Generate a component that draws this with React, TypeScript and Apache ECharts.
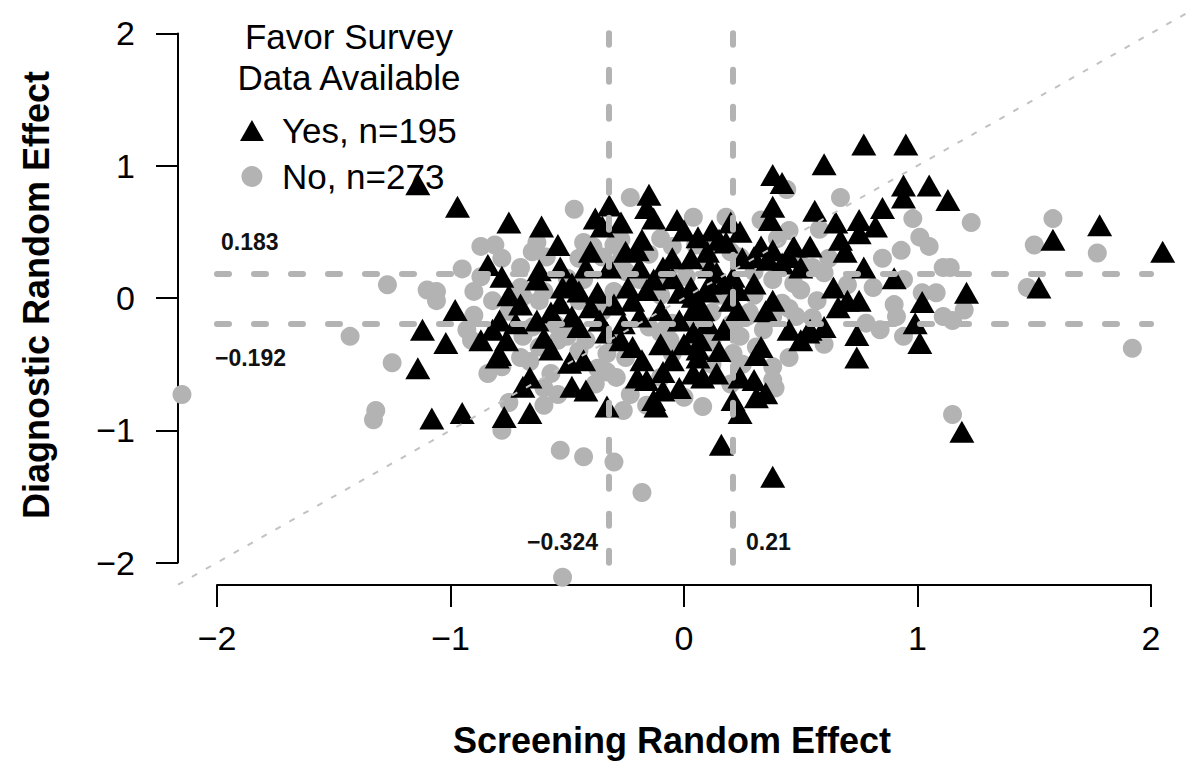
import React, { useEffect, useRef } from "react";
import * as echarts from "echarts";

const FONT = '"Liberation Sans", Arial, Helvetica, sans-serif';

// Tick positions
const xTickMin = -2;
const xTickMax = 2;
const yTickMin = -2;
const yTickMax = 2;

// Reference cut-offs
const vLines = [-0.324, 0.21];
const hLines = [0.183, -0.192];

// Favor survey data available: Yes (triangles)
const yesPoints: [number, number][] = [
  [-1.14, 0.86], [-0.97, 0.69], [-0.75, 0.57], [-0.61, 0.54], [-0.54, 0.4], [-0.38, 0.6], [-0.32, 0.7],
  [-0.27, 0.57], [-0.35, 0.54], [-0.15, 0.78], [-0.16, 0.68], [-0.13, 0.6], [-0.03, 0.59], [0.0, 0.51],
  [0.38, 0.69], [0.37, 0.59], [0.42, 0.87], [0.38, 0.93], [0.56, 0.66], [0.12, 0.51], [0.2, 0.57],
  [0.24, 0.5], [0.15, 0.44], [0.18, 0.42], [0.03, 0.3], [-0.18, 0.44], [-0.2, 0.36], [-0.09, 0.23],
  [-0.19, 0.23], [-0.32, 0.23], [-0.42, 0.23], [-0.53, 0.23], [-0.62, 0.21], [-0.84, 0.25], [-0.78, 0.16],
  [-0.75, 0.02], [-0.98, -0.09], [-0.63, 0.14], [-0.52, 0.08], [-0.48, 0.11], [-0.37, 0.04], [-0.4, -0.07],
  [-0.53, -0.04], [-0.57, -0.11], [-0.48, -0.14], [-0.36, -0.17], [-0.45, -0.22], [-0.63, -0.17],
  [-0.72, -0.19], [-0.79, -0.17], [-0.82, -0.24], [-0.87, -0.32], [-0.76, -0.32], [-1.02, -0.34],
  [-0.79, -0.43], [-0.57, -0.39], [-0.49, -0.49], [-0.43, -0.47], [-0.24, 0.08], [-0.22, -0.02],
  [-0.16, 0.06], [-0.13, 0.14], [-0.1, -0.09], [-0.19, -0.14], [-0.26, -0.19], [-0.27, -0.32],
  [-0.33, -0.26], [-0.22, -0.37], [-0.18, -0.47], [-0.2, -0.6], [-0.16, -0.62], [-0.05, -0.47],
  [-0.02, 0.04], [0.03, 0.08], [0.04, 0.01], [0.08, -0.09], [-0.02, -0.17], [0.04, -0.26], [0.1, -0.19],
  [0.14, 0.19], [0.11, 0.23], [0.17, 0.11], [0.23, 0.06], [0.2, -0.02], [0.23, -0.09], [0.17, -0.24],
  [0.06, -0.39], [0.04, -0.57], [0.08, -0.6], [0.14, -0.57], [0.24, -0.6], [0.3, -0.62], [0.3, 0.31],
  [0.33, 0.39], [0.38, 0.36], [0.47, 0.39], [0.54, 0.39], [0.42, 0.26], [0.5, 0.23], [0.3, 0.11],
  [0.38, -0.02], [0.45, -0.24], [0.54, -0.24], [0.33, -0.37], [0.5, -0.32], [0.21, -0.77], [0.24, -0.87],
  [0.31, -0.75], [0.35, -0.72], [-0.13, -0.77], [-0.09, -0.7], [-0.33, -0.82], [-0.42, -0.7], [-0.48, -0.67],
  [-0.66, -0.6], [-0.69, -0.67], [-0.66, -0.87], [-0.77, -0.9], [-0.95, -0.87], [-1.12, -0.24],
  [-1.14, -0.53], [-1.08, -0.91], [-0.8, -0.45], [-0.09, -0.56], [-0.12, -0.82], [-0.02, -0.68],
  [0.06, -0.45], [0.31, -0.43], [0.74, -0.45], [0.16, -1.11], [0.38, -1.35], [0.77, 1.16], [0.95, 1.16],
  [0.6, 1.01], [0.94, 0.85], [1.05, 0.85], [0.94, 0.76], [1.13, 0.74], [0.65, 0.57], [0.75, 0.59],
  [0.85, 0.68], [0.82, 0.54], [0.75, 0.49], [0.67, 0.44], [0.69, 0.35], [0.77, 0.23], [0.9, 0.15],
  [1.02, -0.03], [0.99, -0.19], [1.01, -0.34], [0.74, -0.28], [0.64, 0.08], [0.7, -0.02], [0.75, -0.02],
  [0.66, -0.07], [0.6, -0.22], [0.53, -0.26], [0.36, 0.29], [0.45, 0.31], [0.21, 0.16], [0.11, 0.11],
  [0.04, -0.09], [0.07, -0.32], [0.06, 0.46], [1.78, 0.55], [1.58, 0.44], [2.05, 0.35], [1.21, 0.04],
  [1.52, 0.08], [1.19, -1.01],
  [-0.45, 0.05], [-0.3, -0.05], [-0.05, 0.3], [0.1, 0.35], [-0.25, 0.35], [0.25, 0.3], [-0.7, -0.05],
  [-0.4, 0.35], [0.0, -0.35], [0.15, -0.4], [-0.1, -0.35], [0.35, -0.1], [-0.6, -0.3], [0.1, 0.05],
  [-0.05, 0.15],
];

// Favor survey data available: No (circles)
const noPoints: [number, number][] = [
  [-2.15, -0.73], [-1.43, -0.29], [-1.27, 0.1], [-1.25, -0.49], [-1.32, -0.85], [-1.33, -0.92],
  [-1.1, 0.06], [-1.06, 0.05], [-1.06, -0.02], [-0.9, -0.13], [-0.93, -0.24], [-0.82, -0.02],
  [-0.87, 0.16], [-0.87, 0.39], [-0.81, 0.4], [-0.78, 0.3], [-0.7, 0.23], [-0.47, 0.67], [-0.23, 0.76],
  [-0.43, 0.42], [-0.63, 0.42], [-0.53, -1.15], [-0.43, -1.2], [-0.3, -1.24], [-0.18, -1.47],
  [-0.52, -2.11], [-0.78, -1.0], [-0.75, -0.79], [-0.6, -0.81], [-0.54, -0.73], [-0.57, -0.57],
  [-0.66, -0.48], [-0.26, -0.85], [-0.29, -0.6], [-0.23, -0.73], [-0.16, -0.81], [-0.37, -0.53],
  [-0.33, -0.56], [0.08, -0.82], [0.38, -0.52], [0.39, -0.68], [1.15, -0.88], [1.92, -0.38],
  [1.23, 0.57], [1.58, 0.6], [1.5, 0.4], [1.77, 0.34], [1.47, 0.08], [1.2, -0.09], [1.14, 0.23],
  [1.15, -0.17], [0.67, 0.76], [0.98, 0.6], [1.01, 0.46], [1.05, 0.39], [0.93, 0.36], [1.11, 0.23],
  [0.94, 0.14], [0.81, 0.08], [1.02, 0.04], [1.08, 0.04], [0.91, -0.14], [1.11, -0.14], [0.84, -0.24],
  [0.78, -0.19], [0.94, -0.29], [0.45, 0.51], [0.33, 0.59], [0.18, 0.61], [0.04, 0.61], [0.44, 0.82],
  [0.6, 0.19], [0.5, 0.06], [0.57, -0.02], [0.42, -0.04], [0.48, -0.14], [0.27, -0.14], [0.34, -0.24],
  [0.31, -0.37], [-0.91, -0.32], [-0.59, 0.31], [-0.35, 0.31], [-0.27, 0.29], [-0.05, 0.39],
  [0.38, 0.14], [0.47, 0.11], [0.38, -0.14], [0.38, -0.62], [-0.54, -0.32], [-0.5, -0.29], [-0.42, -0.32],
  [-0.33, -0.42], [-0.3, -0.32], [-0.1, -0.26], [-0.06, -0.32], [-0.05, -0.19], [0.12, -0.32],
  [0.21, -0.42], [0.24, -0.29], [0.28, -0.11], [0.12, -0.11], [0.01, 0.16], [-0.1, 0.14], [-0.19, 0.14],
  [-0.43, 0.14], [-0.39, 0.39], [-0.27, 0.44], [0.1, 0.36], [0.24, 0.31], [0.5, 0.26], [0.55, 0.23],
  [-0.7, 0.08], [-0.69, 0.01], [-0.62, -0.02], [-0.65, -0.22], [-0.69, -0.29], [-0.62, -0.37],
  [-0.78, -0.52], [-0.84, -0.57],
  [-0.45, 0.3], [-0.3, 0.4], [-0.1, 0.45], [0.05, 0.4], [0.2, 0.35], [0.3, 0.2], [0.1, 0.25], [-0.05, 0.25],
  [-0.25, 0.2], [-0.5, 0.15], [-0.6, 0.05], [-0.45, -0.02], [-0.3, 0.05], [-0.1, 0.02], [0.05, -0.05],
  [0.15, 0.02], [0.3, 0.02], [0.45, -0.08], [0.55, -0.15], [0.2, -0.2], [0.05, -0.2], [-0.15, -0.22],
  [-0.35, -0.1], [-0.55, -0.2], [-0.75, -0.1], [-0.7, -0.45], [-0.45, -0.4], [-0.25, -0.45],
  [-0.05, -0.42], [0.12, -0.5], [0.25, -0.5], [-0.1, -0.6], [-0.38, -0.65], [-0.6, -0.68], [0.0, -0.75],
  [0.2, -0.65], [0.45, -0.45], [0.6, -0.35], [0.62, 0.3], [0.7, 0.1], [0.85, 0.3], [0.9, -0.05],
  [-0.9, 0.05], [-0.95, 0.22], [-0.65, 0.35], [-0.15, 0.33], [0.4, 0.45], [0.58, 0.52],
];

const minus = (v: number) => String(v).replace("-", "\u2212");

export default function App() {
  const ref = useRef<HTMLDivElement>(null);

  useEffect(() => {
    if (!ref.current) return;
    const chart = echarts.init(ref.current, undefined, { renderer: "svg" });

    const refLineStyle = { color: "#b3b3b3", width: 6, type: [12, 25], cap: "round", opacity: 1 };
    const markData: any[] = [];
    hLines.forEach((h) => markData.push([{ coord: [xTickMin, h] }, { coord: [xTickMax, h] }]));
    vLines.forEach((v) => markData.push([{ coord: [v, yTickMin] }, { coord: [v, yTickMax] }]));
    markData.push([
      { coord: [-2.167, -2.167], lineStyle: { color: "#c2c2c2", width: 2, type: [6, 10], cap: "butt" } },
      { coord: [2.167, 2.167] },
    ]);

    const axisLineStyle = { color: "#000", width: 2 };

    const textStyle = (text: string, x: number, y: number, size: number, bold: boolean, align: string) => ({
      text, x, y, fontSize: size, fontWeight: bold ? "bold" : "normal", fontFamily: FONT,
      fill: bold && size < 30 ? "#111" : "#000",
      textAlign: align, textVerticalAlign: "middle", align, verticalAlign: "middle",
    });

    chart.setOption({
      animation: false,
      backgroundColor: "#fff",
      grid: [
        { left: 178, top: 11, width: 1012, height: 574 },
        { left: 217, top: 584, width: 934, height: 1 },
        { left: 178, top: 33.4, width: 1, height: 529.2 },
      ],
      xAxis: [
        { gridIndex: 0, type: "value", min: -2.167, max: 2.167, show: false },
        {
          gridIndex: 1, type: "value", min: xTickMin, max: xTickMax, interval: 1, position: "bottom",
          axisLine: { show: true, onZero: false, lineStyle: axisLineStyle },
          axisTick: { show: true, length: 22, lineStyle: axisLineStyle },
          axisLabel: { fontSize: 34, color: "#000", margin: 36, fontFamily: FONT, formatter: minus },
          splitLine: { show: false },
        },
        { gridIndex: 2, type: "value", min: 0, max: 1, show: false },
      ],
      yAxis: [
        { gridIndex: 0, type: "value", min: -2.169, max: 2.169, show: false },
        { gridIndex: 1, type: "value", min: 0, max: 1, show: false },
        {
          gridIndex: 2, type: "value", min: yTickMin, max: yTickMax, interval: 1, position: "left",
          axisLine: { show: true, onZero: false, lineStyle: axisLineStyle },
          axisTick: { show: true, length: 22, lineStyle: axisLineStyle },
          axisLabel: { fontSize: 34, color: "#000", margin: 43, fontFamily: FONT, formatter: minus },
          splitLine: { show: false },
        },
      ],
      legend: {
        orient: "vertical",
        left: 240,
        top: 113,
        padding: 0,
        itemGap: 11,
        itemWidth: 50,
        itemHeight: 21,
        symbolKeepAspect: true,
        selectedMode: false,
        z: 1,
        itemStyle: { opacity: 1 },
        textStyle: { fontSize: 35, color: "#000", fontFamily: FONT },
        data: [
          { name: "Yes, n=195", icon: "path://M12.5,0L25,22L0,22Z" },
          { name: "No, n=273", icon: "circle" },
        ],
      },
      series: [
        {
          type: "scatter",
          name: "refs",
          xAxisIndex: 0,
          yAxisIndex: 0,
          data: [],
          z: 1,
          silent: true,
          markLine: {
            silent: true,
            symbol: ["none", "none"],
            label: { show: false },
            lineStyle: refLineStyle,
            emphasis: { disabled: true },
            data: markData,
          },
        },
        {
          type: "scatter",
          name: "No, n=273",
          xAxisIndex: 0,
          yAxisIndex: 0,
          data: noPoints,
          symbol: "circle",
          symbolSize: 19,
          itemStyle: { color: "#b3b3b3", opacity: 1 },
          z: 2,
        },
        {
          type: "scatter",
          name: "Yes, n=195",
          xAxisIndex: 0,
          yAxisIndex: 0,
          data: yesPoints,
          symbol: "triangle",
          symbolSize: [25, 22],
          itemStyle: { color: "#000", opacity: 1 },
          z: 3,
        },
      ],
      graphic: [
        { type: "text", z: 0, style: textStyle("Favor Survey", 349, 36, 35, false, "center") },
        { type: "text", z: 0, style: textStyle("Data Available", 349, 77, 35, false, "center") },
        { type: "text", z: 0, style: textStyle("Screening Random Effect", 672, 740, 36, true, "center") },
        {
          type: "text", z: 0, x: 36, y: 295, rotation: Math.PI / 2,
          style: textStyle("Diagnostic Random Effect", 0, 0, 36, true, "center"),
        },
        { type: "text", z: 0, style: textStyle("0.183", 221, 242, 23, true, "left") },
        { type: "text", z: 0, style: textStyle("\u22120.192", 215, 358, 23, true, "left") },
        { type: "text", z: 0, style: textStyle("\u22120.324", 598, 542, 23, true, "right") },
        { type: "text", z: 0, style: textStyle("0.21", 746, 542, 23, true, "left") },
      ],
    });

    return () => chart.dispose();
  }, []);

  return (
    <div
      ref={ref}
      style={{ position: "absolute", left: 0, top: 0, width: 1202, height: 766, background: "#fff" }}
    />
  );
}
